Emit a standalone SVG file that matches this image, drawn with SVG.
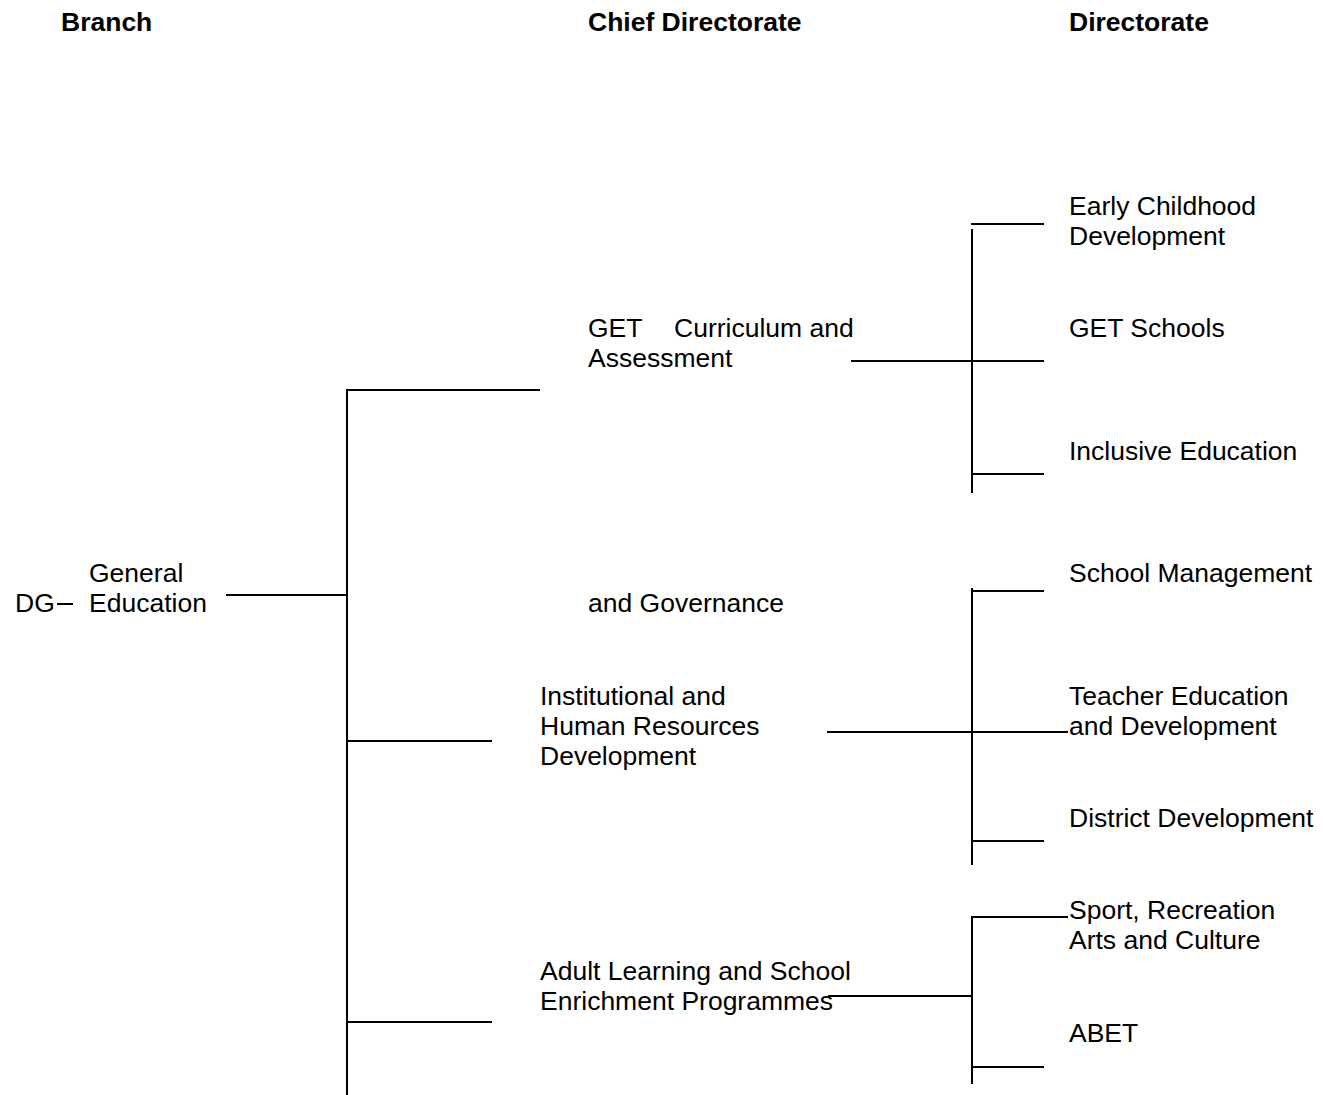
<svg xmlns="http://www.w3.org/2000/svg" width="1323" height="1095" viewBox="0 0 1323 1095">
<style>
text{font-family:"Liberation Sans",Arial,sans-serif;font-size:26.5px;fill:#000}
.h{font-weight:bold}
.c line{stroke:#000;stroke-width:2;fill:none}
</style>
<rect width="1323" height="1095" fill="#fff"/>
<g id="headers">
<text class="h" x="61" y="31">Branch</text>
<text class="h" x="588" y="31">Chief Directorate</text>
<text class="h" x="1069" y="31">Directorate</text>
</g>
<g id="dg"><text x="15" y="612">DG</text></g>
<g id="general-education"><text x="89" y="582">General</text><text x="89" y="612">Education</text></g>
<g id="get-curriculum"><text x="588" y="337">GET<tspan x="674">Curriculum and</tspan></text><text x="588" y="367">Assessment</text></g>
<g id="and-governance"><text x="588" y="612">and Governance</text></g>
<g id="institutional"><text x="540" y="705">Institutional and</text><text x="540" y="735">Human Resources</text><text x="540" y="765">Development</text></g>
<g id="adult-learning"><text x="540" y="980">Adult Learning and School</text><text x="540" y="1010">Enrichment Programmes</text></g>
<g id="ecd"><text x="1069" y="215">Early Childhood</text><text x="1069" y="245">Development</text></g>
<g id="get-schools"><text x="1069" y="337">GET Schools</text></g>
<g id="inclusive"><text x="1069" y="460">Inclusive Education</text></g>
<g id="school-management"><text x="1069" y="582">School Management</text></g>
<g id="teacher-education"><text x="1069" y="705">Teacher Education</text><text x="1069" y="735">and Development</text></g>
<g id="district-development"><text x="1069" y="827">District Development</text></g>
<g id="sport"><text x="1069" y="919">Sport, Recreation</text><text x="1069" y="949">Arts and Culture</text></g>
<g id="abet"><text x="1069" y="1042">ABET</text></g>
<g id="connectors" class="c">
<line x1="57" y1="604" x2="73" y2="604"/>
<line x1="226" y1="595" x2="347" y2="595"/>
<line x1="347" y1="389" x2="347" y2="1095"/>
<line x1="346" y1="390" x2="540" y2="390"/>
<line x1="347" y1="741" x2="492" y2="741"/>
<line x1="347" y1="1022" x2="492" y2="1022"/>
<line x1="972" y1="229" x2="972" y2="493"/>
<line x1="971" y1="224" x2="1044" y2="224"/>
<line x1="851" y1="361" x2="1044" y2="361"/>
<line x1="972" y1="474" x2="1044" y2="474"/>
<line x1="972" y1="588" x2="972" y2="865"/>
<line x1="972" y1="591" x2="1044" y2="591"/>
<line x1="827" y1="732" x2="1068" y2="732"/>
<line x1="972" y1="841" x2="1044" y2="841"/>
<line x1="972" y1="916" x2="972" y2="1084"/>
<line x1="971" y1="917" x2="1068" y2="917"/>
<line x1="828" y1="996" x2="972" y2="996"/>
<line x1="972" y1="1067" x2="1044" y2="1067"/>
</g>
</svg>
